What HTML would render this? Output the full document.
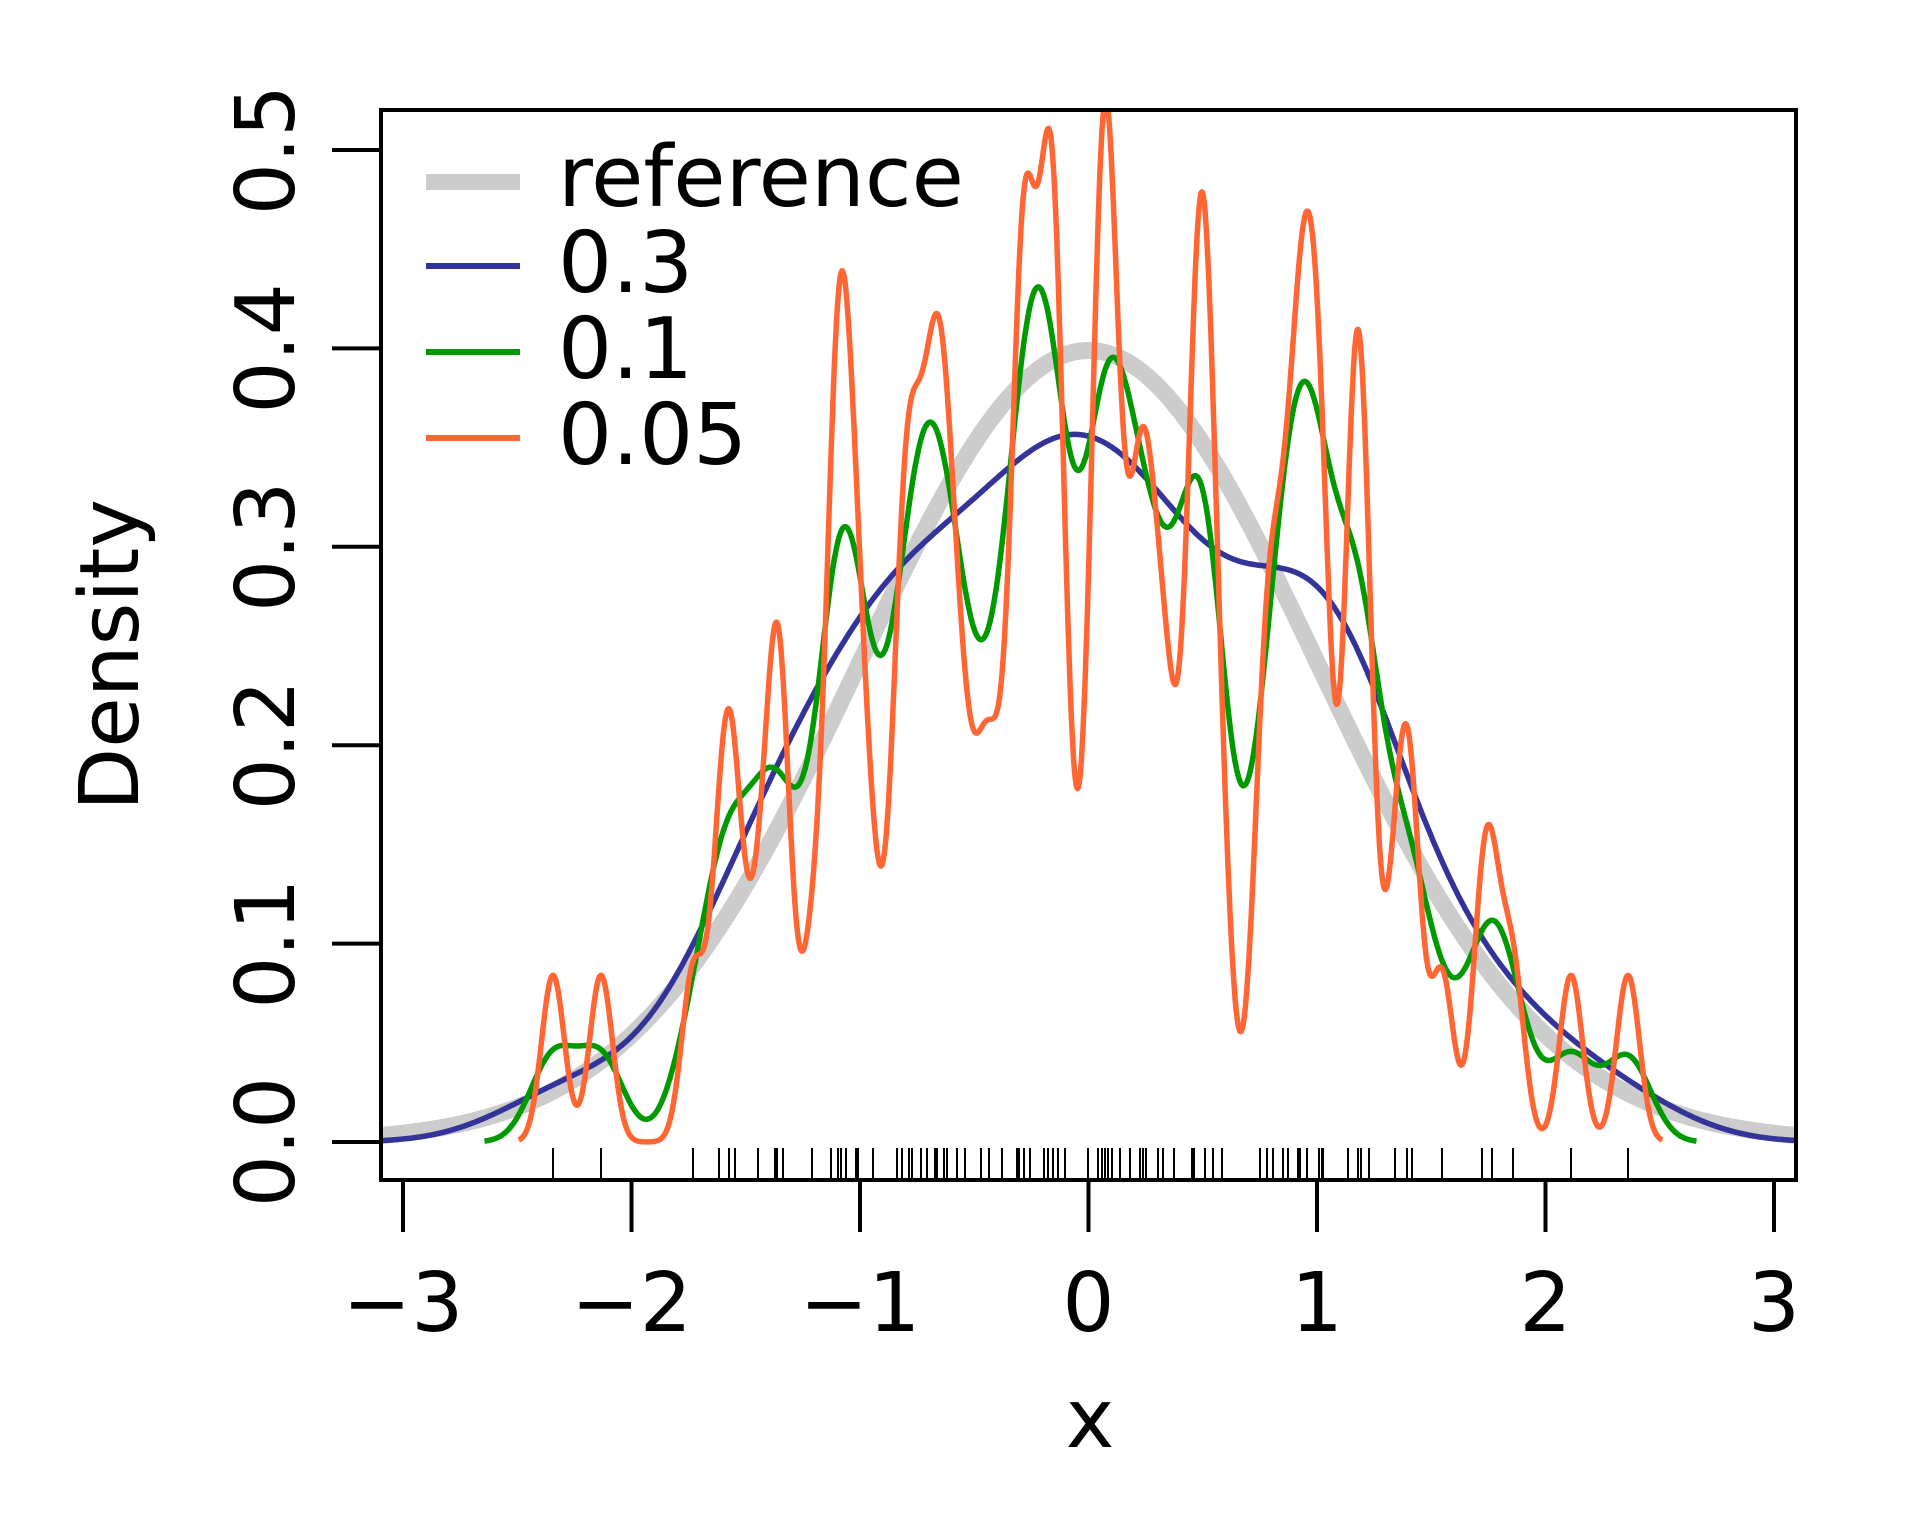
<!DOCTYPE html>
<html><head><meta charset="utf-8"><style>
html,body{margin:0;padding:0;background:#fff;}
svg{display:block;font-family:"DejaVu Sans","Liberation Sans",sans-serif;}
</style></head><body>
<svg id="s" width="1920" height="1538" viewBox="0 0 1920 1538" xmlns="http://www.w3.org/2000/svg">
<defs><clipPath id="c"><rect x="381" y="110" width="1415" height="1070"/></clipPath></defs>
<g id="curves" clip-path="url(#c)"></g>
<g id="rug" stroke="#000" stroke-width="2"></g>
<rect x="381" y="110" width="1415" height="1070" fill="none" stroke="#000" stroke-width="4"/>
<g stroke="#000" stroke-width="4" id="ticks"></g>
<g font-size="82" fill="#000" id="labels"></g>
<text x="1090" y="1447" font-size="82" text-anchor="middle">x</text>
<text transform="translate(138,655) rotate(-90)" font-size="82" text-anchor="middle">Density</text>
<g stroke-width="6">
<line x1="426" y1="182" x2="520" y2="182" stroke="#cccccc" stroke-width="16"/>
<line x1="426" y1="266" x2="520" y2="266" stroke="#333399"/>
<line x1="426" y1="352" x2="520" y2="352" stroke="#009900"/>
<line x1="426" y1="438" x2="520" y2="438" stroke="#ff6633"/>
</g>
<g font-size="85" fill="#000">
<text x="558" y="206">reference</text>
<text x="558" y="292">0.3</text>
<text x="558" y="378">0.1</text>
<text x="558" y="464">0.05</text>
</g>
</svg>
<script>
var NS="http://www.w3.org/2000/svg";
var px=[553,601,693,719,729,735,758,775,777,783,812,831,838,841,846,856,858,873,897,902,909,912,
921,927,935,937,944,947,957,965,981,989,1002,1017,1019,1024,1030,1044,1048,1053,1058,1065,1088,1098,1102,1105,1108,1112,1120,1130,1140,1143,1146,1158,
1163,1174,1192,1194,1205,1213,1222,1260,1267,1273,1283,1288,1298,1300,1307,1319,1322,1323,1348,1358,1361,1369,1395,1407,1412,1442,1482,1492,1513,1571,1628];
var extra=[[837,0.9],[1027,1.5],[1050,1.5],[1104,0.8],[1203,1.8],[1199,0.6],[1310,0.7],[1306,0.6],[1356,1.6]];
var X0=1088.5,SX=228.5,Y0=1142,SY=1984;
var d=[],w=[];
px.forEach(function(p){d.push((p-X0)/SX);w.push(1);});
extra.forEach(function(e){d.push((e[0]-X0)/SX);w.push(e[1]);});
var n=d.length,W=w.reduce(function(a,b){return a+b;},0),mn=Math.min.apply(null,d),mx=Math.max.apply(null,d);
function kde(x,h){var s=0;for(var i=0;i<n;i++){var z=(x-d[i])/h;s+=w[i]*Math.exp(-z*z/2);}return s/(W*h*Math.sqrt(2*Math.PI));}
function path(f,a,b){var s="",N=1500;for(var i=0;i<=N;i++){var x=a+(b-a)*i/N;var y=f(x);s+=(i?"L":"M")+(X0+x*SX).toFixed(1)+","+(Y0-y*SY).toFixed(1);}return s;}
var g=document.getElementById("curves");
function add(dd,col,sw){var p=document.createElementNS(NS,"path");p.setAttribute("d",dd);p.setAttribute("stroke",col);p.setAttribute("stroke-width",sw);p.setAttribute("fill","none");p.setAttribute("stroke-linejoin","round");g.appendChild(p);}
add(path(function(x){return Math.exp(-x*x/2)/Math.sqrt(2*Math.PI);},-3.2,3.2),"#cccccc",17);
add(path(function(x){return kde(x,0.3);},mn-0.9,mx+0.9),"#333399",5.5);
add(path(function(x){return kde(x,0.1);},mn-0.3,mx+0.3),"#009900",5.5);
add(path(function(x){return kde(x,0.05);},mn-0.15,mx+0.15),"#ff6633",5.5);
var r=document.getElementById("rug");
px.forEach(function(p){var l=document.createElementNS(NS,"line");l.setAttribute("x1",p);l.setAttribute("x2",p);l.setAttribute("y1",1148);l.setAttribute("y2",1180);r.appendChild(l);});
var t=document.getElementById("ticks"),L=document.getElementById("labels");
function ln(a,b,c,e){var l=document.createElementNS(NS,"line");l.setAttribute("x1",a);l.setAttribute("y1",b);l.setAttribute("x2",c);l.setAttribute("y2",e);t.appendChild(l);}
function tx(s,x,y,rot){var e=document.createElementNS(NS,"text");e.textContent=s;e.setAttribute("text-anchor","middle");if(rot){e.setAttribute("transform","translate("+x+","+y+") rotate(-90)");}else{e.setAttribute("x",x);e.setAttribute("y",y);}L.appendChild(e);}
for(var k=-3;k<=3;k++){var x=X0+k*SX;ln(x,1180,x,1232);tx(k<0?"\u2212"+(-k):""+k,x,1331);}
for(var j=0;j<=5;j++){var y=Y0-j*0.1*SY;ln(332,y,381,y);tx((j/10).toFixed(1),294,y,true);}
</script>
</body></html>
